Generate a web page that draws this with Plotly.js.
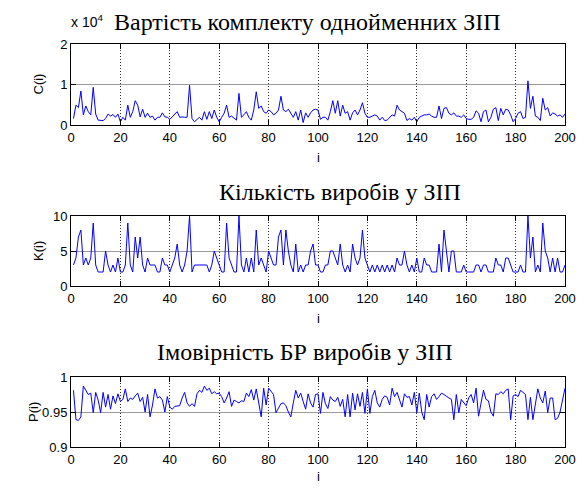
<!DOCTYPE html>
<html>
<head>
<meta charset="utf-8">
<script src="https://cdn.plot.ly/plotly-3.0.1.min.js"></script>
<style>
  html, body { margin: 0; padding: 0; background: #fff; }
  #chart { width: 585px; height: 488px; }
</style>
</head>
<body>
<div id="chart"></div>
<script>
// Sample number i = 1..200
const sampleIndex = Array.from({ length: 200 }, (_, k) => k + 1);

// C(i): cost of a kit of identical spare parts
const costC = [
  1600, 4900, 4300, 8400, 2500, 4700, 3300, 2500, 9300, 2700,
  1200, 1100, 1100, 1600, 2700, 2200, 2600, 1900, 2700, 800,
  1900, 1200, 4900, 1900, 3300, 6000, 4900, 2000, 3900, 1900,
  2900, 1900, 2200, 1200, 1900, 1900, 3000, 2000, 1900, 1400,
  2000, 2500, 3300, 1900, 2000, 1900, 1900, 9800, 1600, 800,
  1400, 1900, 1200, 3300, 1400, 3300, 1600, 3700, 1900, 800,
  1900, 2900, 4900, 1900, 2200, 1600, 1200, 7800, 1900, 2500,
  3300, 1900, 1200, 3700, 8200, 4100, 4700, 3300, 2900, 3700,
  3300, 2500, 2900, 3700, 7100, 3700, 3300, 3900, 2900, 1900,
  3300, 1200, 3700, 600, 3000, 1900, 3000, 3700, 3900, 3700,
  1400, 1900, 1900, 1200, 3300, 6000, 2900, 6000, 2200, 4900,
  2900, 3300, 1200, 3000, 3700, 2500, 3700, 5500, 2900, 1900,
  1900, 2200, 2500, 2200, 1200, 1900, 1100, 1200, 1900, 2500,
  2200, 4900, 3700, 3300, 2900, 1100, 1600, 1200, 1900, 800,
  1900, 2200, 2500, 2500, 2700, 2200, 1900, 1900, 4700, 1600,
  4100, 4300, 2900, 2500, 3000, 2200, 2200, 1900, 2500, 1600,
  1400, 1400, 1900, 3500, 2900, 800, 3300, 3700, 800, 1900,
  3900, 4300, 1100, 4100, 2500, 3900, 3700, 2500, 800, 1600,
  2900, 3300, 1600, 1900, 10900, 4100, 7100, 2200, 1900, 1100,
  6600, 3700, 4300, 2200, 3000, 2700, 2200, 2500, 1900, 2700
];

// K(i): number of items in the kit
const countK = [
  3, 4, 7, 8, 3, 4, 3, 4, 9, 3,
  2, 2, 2, 5, 3, 2, 3, 2, 4, 2,
  2, 3, 9, 3, 2, 7, 4, 7, 3, 2,
  4, 3, 3, 3, 2, 2, 4, 3, 3, 2,
  3, 4, 6, 3, 2, 3, 5, 10, 2, 3,
  3, 3, 3, 3, 3, 2, 3, 5, 4, 3,
  2, 2, 9, 4, 3, 2, 2, 10, 3, 2,
  4, 2, 4, 2, 8, 3, 4, 3, 2, 5,
  4, 3, 3, 7, 8, 3, 8, 5, 3, 2,
  6, 2, 3, 2, 3, 3, 5, 6, 3, 3,
  2, 2, 3, 3, 5, 5, 4, 3, 6, 3,
  2, 3, 2, 6, 4, 3, 4, 8, 4, 3,
  2, 3, 2, 3, 2, 3, 2, 3, 2, 3,
  2, 4, 3, 3, 5, 3, 2, 3, 2, 4,
  2, 2, 4, 3, 3, 2, 2, 2, 6, 2,
  8, 5, 2, 5, 5, 2, 2, 2, 3, 2,
  2, 2, 2, 3, 3, 2, 3, 3, 2, 2,
  2, 4, 3, 3, 2, 4, 4, 3, 2, 2,
  2, 3, 2, 2, 10, 4, 7, 2, 3, 2,
  9, 5, 4, 2, 4, 2, 4, 2, 2, 3
];

// P(i): probability of no-failure operation of the kit items
const probP = [
  0.981, 0.939, 0.938, 0.943, 0.987, 0.981, 0.975, 0.977, 0.949, 0.978,
  0.967, 0.949, 0.978, 0.957, 0.975, 0.954, 0.973, 0.962, 0.976, 0.965,
  0.968, 0.983, 0.965, 0.970, 0.968, 0.973, 0.977, 0.965, 0.971, 0.950,
  0.975, 0.943, 0.960, 0.983, 0.970, 0.972, 0.967, 0.950, 0.972, 0.957,
  0.954, 0.958, 0.959, 0.959, 0.970, 0.978, 0.963, 0.958, 0.962, 0.958,
  0.976, 0.981, 0.978, 0.987, 0.981, 0.984, 0.976, 0.979, 0.976, 0.977,
  0.972, 0.963, 0.970, 0.979, 0.958, 0.967, 0.965, 0.963, 0.966, 0.965,
  0.977, 0.972, 0.982, 0.967, 0.983, 0.963, 0.943, 0.984, 0.960, 0.984,
  0.979, 0.975, 0.949, 0.955, 0.962, 0.963, 0.959, 0.950, 0.943, 0.963,
  0.981, 0.970, 0.977, 0.965, 0.954, 0.976, 0.963, 0.957, 0.975, 0.976,
  0.948, 0.978, 0.962, 0.955, 0.972, 0.967, 0.965, 0.971, 0.958, 0.968,
  0.943, 0.975, 0.943, 0.977, 0.953, 0.976, 0.958, 0.978, 0.948, 0.983,
  0.948, 0.972, 0.981, 0.963, 0.957, 0.968, 0.973, 0.971, 0.960, 0.984,
  0.972, 0.978, 0.967, 0.957, 0.976, 0.971, 0.972, 0.960, 0.978, 0.949,
  0.977, 0.950, 0.939, 0.975, 0.957, 0.972, 0.976, 0.968, 0.972, 0.977,
  0.975, 0.972, 0.970, 0.968, 0.939, 0.975, 0.949, 0.968, 0.963, 0.959,
  0.970, 0.975, 0.963, 0.984, 0.944, 0.963, 0.981, 0.968, 0.966, 0.950,
  0.944, 0.976, 0.975, 0.979, 0.976, 0.981, 0.983, 0.939, 0.973, 0.975,
  0.972, 0.981, 0.978, 0.975, 0.939, 0.971, 0.939, 0.963, 0.983, 0.970,
  0.963, 0.980, 0.949, 0.970, 0.970, 0.939, 0.941, 0.950, 0.967, 0.984
];

// Axis ticks
const xTickVals = [0, 20, 40, 60, 80, 100, 120, 140, 160, 180, 200];
const cTickVals = [0, 10000, 20000];
const cTickText = ['0', '1', '2'];
const kTickVals = [0, 5, 10];
const pTickVals = [0.9, 0.95, 1];
const pTickText = ['0.9', '0.95', '1'];

// Titles
const titles = ['Вартість комплекту однойменних ЗІП', 'Кількість виробів у ЗІП', 'Імовірність БР виробів у ЗІП'];
const yTitles = ['C(i)', 'K(i)', 'P(i)'];

// Figure geometry (pixels)
const W = 585, H = 488;
const left = 71, right = 565;
const boxes = [
  { top: 44, bottom: 125 },
  { top: 216, bottom: 286 },
  { top: 377, bottom: 447 }
];
const fx = x => x / W;
const fy = y => 1 - y / H;

const tickFont = { family: "'Liberation Sans', Arial, sans-serif", size: 13, color: '#000' };
const titleFont = { family: "'Liberation Serif'", size: 24, color: '#000' };

function xAxis(anchor) {
  return {
    domain: [fx(left), fx(right)], anchor: anchor, range: [0, 200],
    tickmode: 'array', tickvals: xTickVals, ticks: 'inside', ticklen: 5, tickcolor: '#000',
    mirror: 'allticks', showline: true, linecolor: '#000', linewidth: 1,
    showgrid: true, gridcolor: '#333', griddash: '1px,2px', gridwidth: 1,
    zeroline: false, tickfont: tickFont, fixedrange: true
  };
}
function yAxis(box, anchor, range, vals, text) {
  const ax = {
    domain: [fy(box.bottom), fy(box.top)], anchor: anchor, range: range,
    tickmode: 'array', tickvals: vals, ticks: 'inside', ticklen: 5, tickcolor: '#000',
    mirror: 'allticks', showline: true, linecolor: '#000', linewidth: 1,
    showgrid: true, gridcolor: '#9a9a9a', gridwidth: 1,
    zeroline: false, tickfont: tickFont, fixedrange: true
  };
  if (text) ax.ticktext = text;
  return ax;
}

const line = { color: '#0000ff', width: 1 };
const traces = [
  { x: sampleIndex, y: costC, type: 'scatter', mode: 'lines', line: line, xaxis: 'x', yaxis: 'y', hoverinfo: 'skip' },
  { x: sampleIndex, y: countK, type: 'scatter', mode: 'lines', line: line, xaxis: 'x2', yaxis: 'y2', hoverinfo: 'skip' },
  { x: sampleIndex, y: probP, type: 'scatter', mode: 'lines', line: line, xaxis: 'x3', yaxis: 'y3', hoverinfo: 'skip' }
];

const titleLeft = [112, 217, 155];
const titleY = [22, 192, 352];
const yTitleX = [38, 38, 33];
const xLabelY = [157, 318, 476];

const annotations = [];
for (let k = 0; k < 3; k++) {
  annotations.push({
    text: titles[k], xref: 'paper', yref: 'paper', x: fx(titleLeft[k]), y: fy(titleY[k]),
    xanchor: 'left', yanchor: 'middle', showarrow: false, font: titleFont
  });
  annotations.push({
    text: yTitles[k], xref: 'paper', yref: 'paper', x: fx(yTitleX[k]), y: fy((boxes[k].top + boxes[k].bottom) / 2),
    xanchor: 'center', yanchor: 'middle', textangle: -90, showarrow: false, font: tickFont
  });
  annotations.push({
    text: 'i', xref: 'paper', yref: 'paper', x: fx(318), y: fy(xLabelY[k]),
    xanchor: 'center', yanchor: 'middle', showarrow: false, font: tickFont
  });
}
// Exponent of the cost axis
annotations.push({
  text: 'x 10<sup>4</sup>', xref: 'paper', yref: 'paper', x: fx(69), y: fy(32),
  xanchor: 'left', yanchor: 'bottom', showarrow: false, font: { family: tickFont.family, size: 14, color: '#000' }
});

const layout = {
  width: W, height: H,
  margin: { l: 0, r: 0, t: 0, b: 0 },
  paper_bgcolor: '#fff', plot_bgcolor: '#fff',
  showlegend: false,
  xaxis: xAxis('y'),
  yaxis: yAxis(boxes[0], 'x', [0, 20000], cTickVals, cTickText),
  xaxis2: xAxis('y2'),
  yaxis2: yAxis(boxes[1], 'x2', [0, 10], kTickVals, null),
  xaxis3: xAxis('y3'),
  yaxis3: yAxis(boxes[2], 'x3', [0.9, 1], pTickVals, pTickText),
  annotations: annotations
};

Plotly.newPlot('chart', traces, layout, { staticPlot: true, displayModeBar: false });
</script>
</body>
</html>
